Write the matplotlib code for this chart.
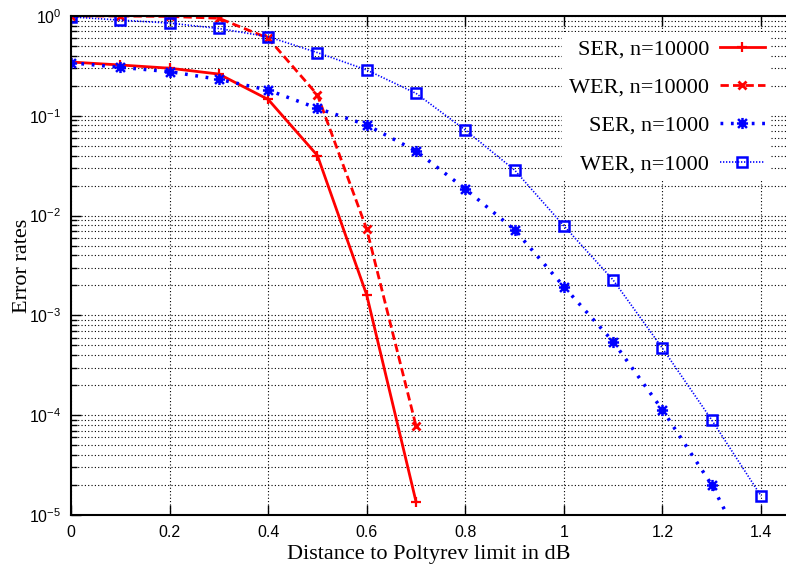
import numpy as np
import matplotlib
matplotlib.use("Agg")
import matplotlib.pyplot as plt
from matplotlib.path import Path
from matplotlib.ticker import LogLocator, FixedLocator, FuncFormatter, NullFormatter

plt.rcParams['mathtext.fontset'] = 'custom'
plt.rcParams['mathtext.rm'] = 'Liberation Sans'
plt.rcParams['mathtext.it'] = 'Liberation Sans'

# distances in dB
x_10000 = [0, 0.1, 0.2, 0.3, 0.4, 0.5, 0.6, 0.7]
x_1000 = [0, 0.1, 0.2, 0.3, 0.4, 0.5, 0.6, 0.7, 0.8, 0.9, 1.0, 1.1, 1.2, 1.3, 1.4]

ser_10000 = [0.346, 0.323, 0.30, 0.262, 0.146, 0.040, 0.0016, 1.36e-5]
wer_10000 = [1.0, 1.0, 0.99, 0.95, 0.60, 0.162, 0.0073, 7.8e-5]
ser_1000 = [0.34, 0.306, 0.277, 0.232, 0.181, 0.119, 0.081, 0.0444, 0.0185,
            0.0072, 0.00194, 5.45e-4, 1.13e-4, 2.0e-5, 2.2e-6]
wer_1000 = [0.98, 0.91, 0.85, 0.75, 0.62, 0.43, 0.288, 0.168, 0.072,
            0.0286, 0.0079, 0.00226, 4.68e-4, 8.95e-5, 1.55e-5]

xticks = [0, 0.2, 0.4, 0.6, 0.8, 1.0, 1.2, 1.4]

# gnuplot-style asterisk: a + and an x on top of each other
star = Path([(-1, 0), (1, 0), (0, -1), (0, 1),
             (-0.8, -0.8), (0.8, 0.8), (-0.8, 0.8), (0.8, -0.8)],
            [Path.MOVETO, Path.LINETO] * 4)

fig = plt.figure(figsize=(7.86, 5.66), dpi=100)
ax = fig.add_axes([0.0903, 0.0901, 0.9097, 0.8816])

ax.plot(x_10000, ser_10000, color='#ff0000', lw=2, ls='-', marker='+',
        ms=7, mew=1.6, label='SER, n=10000')
ax.plot(x_10000, wer_10000, color='#ff0000', lw=2, ls=(0, (3, 1.5)), marker='x',
        ms=6, mew=2, label='WER, n=10000')
ax.plot(x_1000, ser_1000, color='#0000ff', lw=2.5, ls=(0, (0.8, 2.2)), marker=star,
        ms=8, mew=1.8, mfc='none', label='SER, n=1000')
ax.plot(x_1000, wer_1000, color='#0000ff', lw=1.2, ls=(0, (0.8, 1)), marker='s',
        ms=7, mew=1.8, mfc='none', label='WER, n=1000')

ax.set_yscale('log')
ax.set_ylim(1e-5, 1)
ax.set_xlim(0, 1.4506)

ax.xaxis.set_major_locator(FixedLocator(xticks))
ax.xaxis.set_major_formatter(FuncFormatter(lambda v, p: f'{v:g}'))
ax.yaxis.set_major_locator(LogLocator(base=10, numticks=10))
ax.yaxis.set_minor_locator(LogLocator(base=10, subs=np.arange(2, 10), numticks=20))
ax.yaxis.set_minor_formatter(NullFormatter())

ax.grid(True, which='major', axis='both', color='black', lw=0.8, ls=(0, (1, 2)))
ax.grid(True, which='minor', axis='y', color='black', lw=0.8, ls=(0, (1, 2)))

ax.tick_params(which='both', direction='in', top=True, right=False,
               labelsize=11.5, pad=7)
ax.tick_params(which='major', length=7, width=1)
ax.tick_params(which='minor', length=4, width=1)
for lab in ax.get_xticklabels() + ax.get_yticklabels():
    lab.set_family('Liberation Sans')

for s in ['left', 'bottom', 'top']:
    ax.spines[s].set_linewidth(1.5)
ax.spines['right'].set_visible(False)

ax.set_xlabel('Distance to Poltyrev limit in dB', family='Liberation Serif',
              fontsize=16, labelpad=4)
ax.set_ylabel('Error rates', family='Liberation Serif', fontsize=16, labelpad=-2)

leg = ax.legend(loc='upper right', bbox_to_anchor=(0.995, 0.99), markerfirst=False,
                prop={'family': 'Liberation Serif', 'size': 16},
                frameon=True, fancybox=False, framealpha=1, edgecolor='none',
                facecolor='white', handlelength=2.0, labelspacing=0.8,
                borderpad=0.3, handletextpad=0.5)

fig.savefig('out.png', dpi=100)
